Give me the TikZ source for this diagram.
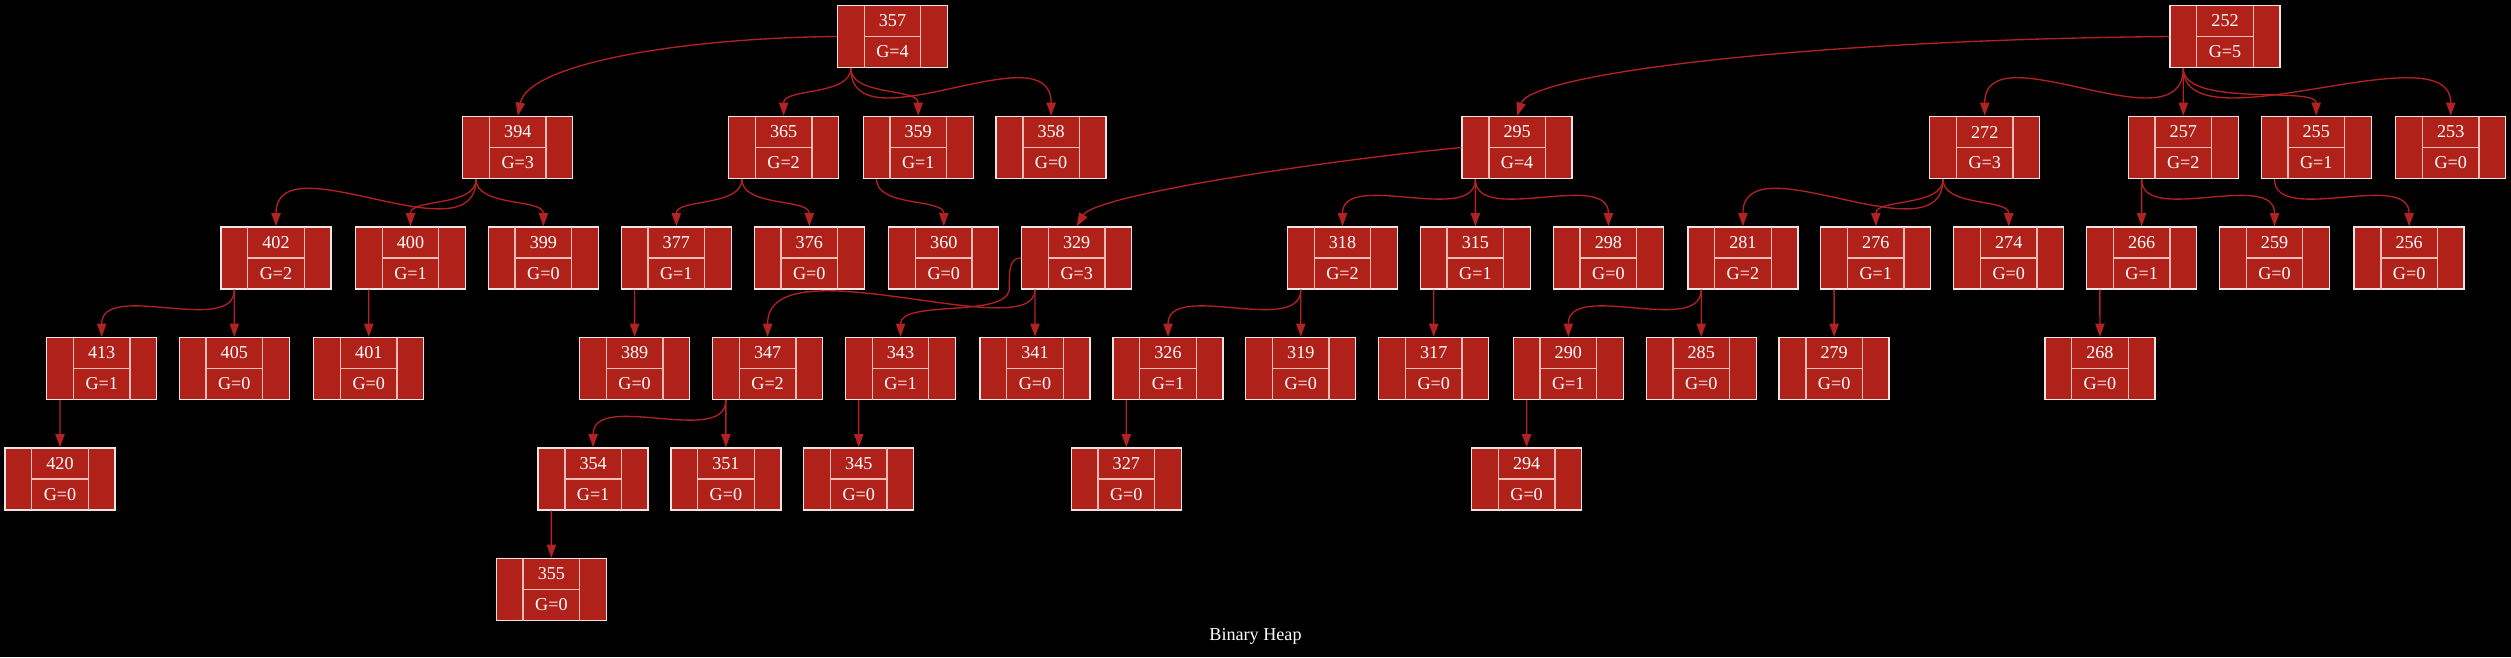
\documentclass[tikz,border=0pt]{standalone}
\usepackage{fontspec}
\setmainfont{Liberation Serif}
\usetikzlibrary{arrows.meta}
\definecolor{heapfill}{HTML}{B0211A}
\definecolor{heapline}{HTML}{F0E4E2}
\definecolor{cellline}{HTML}{F4BCB4}
\definecolor{edgered}{HTML}{B22222}
\tikzset{
  heaprec/.style={draw=heapline, fill=heapfill, line width=1pt, minimum width=82.5pt, minimum height=46.5pt, inner sep=0pt},
  recline/.style={draw=cellline, line width=1pt},
  heaptxt/.style={text=white, inner sep=0pt, font=\fontsize{13.6}{16}\selectfont},
  heapedge/.style={draw=edgered, line width=1pt, -{Triangle[length=10pt,width=7pt]}},
}

\begin{document}
\begin{tikzpicture}[x=0.75pt, y=-0.75pt]
\useasboundingbox (0,0) rectangle (2511,657);
\fill[black] (0,0) rectangle (2511,657);
% heap records
\foreach \k/\px/\py/\g in {357/892.5/36.5/4, 252/2225/36.5/5,
  394/517.8/147.5/3, 365/783.6/147.5/2, 359/918.2/147.5/1, 358/1051.1/147.5/0,
  295/1517.1/147.5/4, 272/1984.7/147.5/3, 257/2183.3/147.5/2, 255/2316.2/147.5/1, 253/2450.7/147.5/0,
  402/276/258/2, 400/410.5/258/1, 399/543.4/258/0, 377/676.3/258/1, 376/809.3/258/0, 360/943.8/258/0,
  329/1076.7/258/3, 318/1342.5/258/2, 315/1475.4/258/1, 298/1608.4/258/0, 281/1742.9/258/2,
  276/1875.8/258/1, 274/2008.7/258/0, 266/2141.6/258/1, 259/2274.5/258/0, 256/2409.1/258/0,
  413/101.7/368.5/1, 405/234.3/368.5/0, 401/368.8/368.5/0, 389/634.6/368.5/0, 347/767.6/368.5/2,
  343/900.5/368.5/1, 341/1035/368.5/0, 326/1168/368.5/1, 319/1300.8/368.5/0, 317/1433.7/368.5/0,
  290/1568.3/368.5/1, 285/1701.2/368.5/0, 279/1834.1/368.5/0, 268/2099.9/368.5/0,
  420/60/479/0, 354/593.1/479/1, 351/725.9/479/0, 345/858.8/479/0, 327/1126.3/479/0, 294/1526.6/479/0,
  355/551.4/589.5/0}
{
  \node[heaprec] (n\k) at (\px,\py) {};
  \draw[recline] ([xshift=-21.2pt,yshift=-0.5pt]n\k.north) -- ([xshift=-21.2pt,yshift=0.5pt]n\k.south)
    ([xshift=21.2pt,yshift=-0.5pt]n\k.north) -- ([xshift=21.2pt,yshift=0.5pt]n\k.south)
    ([xshift=-21.2pt]n\k.center) -- ([xshift=21.2pt]n\k.center);
  \node[heaptxt] (k\k) at ([yshift=11.6pt]n\k.center) {\k};
  \node[heaptxt] (g\k) at ([yshift=-11.6pt]n\k.center) {G=\g};
  \coordinate (t\k) at ([xshift=-31.3pt]n\k.south);
}
% straight links
\foreach \p/\c in {413/420,402/405,400/401,377/389,329/341,343/345,347/351,354/355,318/319,
  315/317,281/285,290/294,276/279,266/268,257/266,252/257,295/315,326/327}
  \draw[heapedge] (t\p) -- (n\c.north);
% s-curves
\foreach \p/\c in {357/365,357/359,394/400,394/399,365/377,365/376,359/360,272/276,272/274}
  \draw[heapedge] (t\p) .. controls +(0,28) and +(0,-28) .. (n\c.north);
% loops under the tail
\foreach \p/\c in {394/402,272/281,252/272,357/358,252/253}
  \draw[heapedge] (t\p) .. controls +(0,82) and +(0,-87) .. (n\c.north);
% flat humps
\foreach \p/\c in {295/318,295/298,257/259,255/256,402/413,347/354,318/326,281/290}
  \draw[heapedge] (t\p) .. controls +(0,47) and +(0,-57) .. (n\c.north);
\draw[heapedge] (t252) .. controls +(0,40) and +(0,-30) .. (n255.north);
% long ones from the side
\draw[heapedge] (n357.west) .. controls +(-157.5,1.5) and +(10.2,-51.7) .. (n394.north);
\draw[heapedge] (n252.west) .. controls +(-370,3.5) and +(13,-41.7) .. (n295.north);
\draw[heapedge] (n295.west) .. controls +(-132,12.5) and +(18.3,-31.7) .. (n329.north);
\draw[heapedge] (n329.west) .. controls +(-12,0) and +(0,-20) .. ++(-11.7,32)
  .. controls +(-5,28) and +(0,-37.3) .. (n343.north);
\draw[heapedge] (t329) .. controls +(0,58) and +(0,-96) .. (n347.north);
\node[heaptxt] (title) at (1255.5,636) {Binary Heap};
\end{tikzpicture}
\end{document}
